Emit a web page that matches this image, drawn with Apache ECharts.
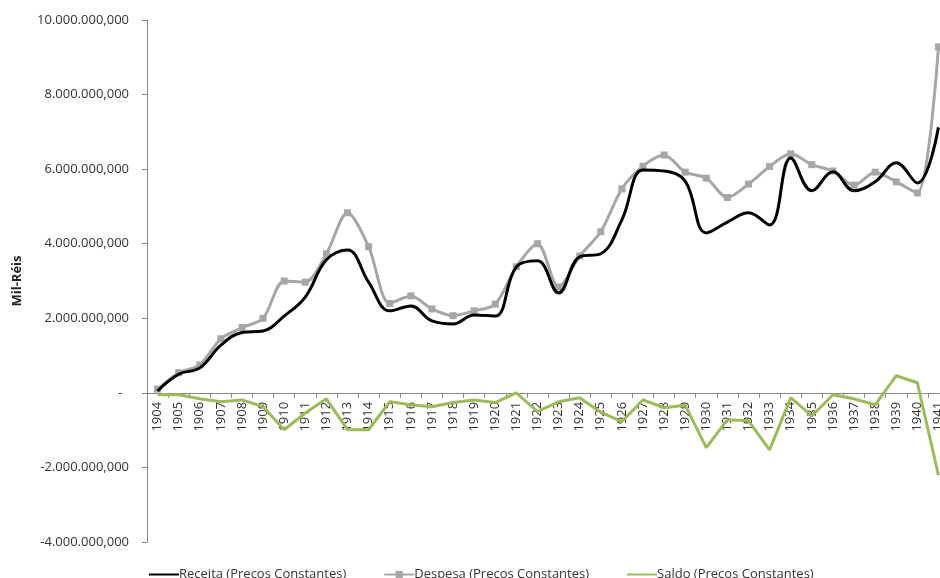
<!DOCTYPE html>
<html>
<head>
<meta charset="utf-8">
<script src="https://cdn.jsdelivr.net/npm/echarts@6/dist/echarts.min.js"></script>
<style>
  html, body { margin: 0; padding: 0; background: #fff; overflow: hidden; }
  #chart { width: 940px; height: 578px; }
</style>
</head>
<body>
<div id="chart"></div>
<script>
// anos
const years = ['1904','1905','1906','1907','1908','1909','1910','1911','1912','1913',
  '1914','1915','1916','1917','1918','1919','1920','1921','1922','1923',
  '1924','1925','1926','1927','1928','1929','1930','1931','1932','1933',
  '1934','1935','1936','1937','1938','1939','1940','1941'];

// valores em mil-réis
const receita = [0.05e9, 0.50e9, 0.67e9, 1.28e9, 1.62e9, 1.66e9, 2.06e9, 2.57e9, 3.57e9, 3.83e9,
  2.97e9, 2.20e9, 2.33e9, 1.93e9, 1.85e9, 2.09e9, 2.06e9, 3.38e9, 3.54e9, 2.68e9,
  3.65e9, 3.73e9, 4.64e9, 5.98e9, 5.95e9, 5.68e9, 4.29e9, 4.58e9, 4.83e9, 4.50e9,
  6.30e9, 5.42e9, 5.93e9, 5.42e9, 5.66e9, 6.17e9, 5.63e9, 7.12e9];
const despesa = [0.10e9, 0.54e9, 0.75e9, 1.45e9, 1.75e9, 2.00e9, 3.00e9, 2.97e9, 3.73e9, 4.83e9,
  3.92e9, 2.40e9, 2.60e9, 2.25e9, 2.07e9, 2.20e9, 2.38e9, 3.38e9, 4.00e9, 2.84e9,
  3.67e9, 4.32e9, 5.47e9, 6.08e9, 6.38e9, 5.92e9, 5.76e9, 5.24e9, 5.60e9, 6.07e9,
  6.41e9, 6.12e9, 5.95e9, 5.57e9, 5.92e9, 5.66e9, 5.36e9, 9.28e9];
const saldo = [-0.05e9, -0.05e9, -0.16e9, -0.24e9, -0.19e9, -0.37e9, -0.99e9, -0.54e9, -0.16e9, -0.99e9,
  -0.99e9, -0.24e9, -0.32e9, -0.37e9, -0.26e9, -0.19e9, -0.26e9, 0.00e9, -0.50e9, -0.24e9,
  -0.13e9, -0.52e9, -0.77e9, -0.19e9, -0.40e9, -0.33e9, -1.47e9, -0.72e9, -0.75e9, -1.53e9,
  -0.13e9, -0.62e9, -0.05e9, -0.16e9, -0.32e9, 0.46e9, 0.27e9, -2.21e9];

// eixo y
const yMin = -4e9, yMax = 10e9, yStep = 2e9;

function fmt(v) {
  if (v === 0) return '-  ';
  const neg = v < 0;
  let s = Math.round(Math.abs(v) / 1000).toString().replace(/\B(?=(\d{3})+(?!\d))/g, '.');
  return (neg ? '-' : '') + s + ',000';
}

const gridTop = 20, gridBottom = 36;
const plotH = 578 - gridTop - gridBottom;
// sobe o eixo x até o zero (rótulos junto da linha)
const zeroOffset = -plotH * (0 - yMin) / (yMax - yMin);

const chart = echarts.init(document.getElementById('chart'));
const font = '"Open Sans", sans-serif';
const noMarker = { color: 'rgba(0,0,0,0)', borderWidth: 0 };
chart.setOption({
  animation: false,
  textStyle: { fontFamily: font },
  grid: { left: 147, top: gridTop, bottom: gridBottom, width: 802, outerBoundsMode: 'none' },
  legend: {
    left: 143, top: 563,
    itemWidth: 30, itemHeight: 9, itemGap: 37,
    textStyle: { fontSize: 13, color: '#333', fontFamily: font, padding: [0, 0, 0, -5] },
    data: [
      { name: 'Receita (Precos Constantes)', itemStyle: noMarker },
      { name: 'Despesa (Precos Constantes)' },
      { name: 'Saldo (Precos Constantes)', itemStyle: noMarker }
    ]
  },
  xAxis: {
    type: 'category',
    data: years,
    position: 'bottom',
    offset: zeroOffset,
    axisLine: { onZero: false, lineStyle: { color: '#868686', width: 1 } },
    axisTick: { show: true, length: 5, lineStyle: { color: '#868686' } },
    axisLabel: { rotate: 90, fontSize: 13, color: '#333', margin: 9, fontFamily: font }
  },
  yAxis: {
    type: 'value',
    min: yMin, max: yMax, interval: yStep,
    name: 'Mil-Réis',
    nameLocation: 'middle',
    nameGap: 123,
    nameTextStyle: { fontSize: 13, fontWeight: 'bold', color: '#222', fontFamily: font },
    splitLine: { show: false },
    axisLine: { show: true, lineStyle: { color: '#868686', width: 1 } },
    axisTick: { show: true, length: 5, lineStyle: { color: '#868686' } },
    axisLabel: { fontSize: 13, color: '#333', margin: 18, formatter: fmt, fontFamily: font }
  },
  series: [
    {
      name: 'Receita (Precos Constantes)',
      type: 'line',
      data: receita,
      smooth: 0.4,
      symbol: 'none',
      lineStyle: { color: '#000', width: 3 },
      itemStyle: { color: '#000' },
      z: 3
    },
    {
      name: 'Despesa (Precos Constantes)',
      type: 'line',
      data: despesa,
      smooth: 0.3,
      symbol: 'rect',
      symbolSize: 7,
      lineStyle: { color: '#a6a6a6', width: 3 },
      itemStyle: { color: '#a6a6a6' },
      z: 2
    },
    {
      name: 'Saldo (Precos Constantes)',
      type: 'line',
      data: saldo,
      symbol: 'none',
      lineStyle: { color: '#9bbb59', width: 3 },
      itemStyle: { color: '#9bbb59' },
      z: 1
    }
  ]
});
</script>
</body>
</html>
